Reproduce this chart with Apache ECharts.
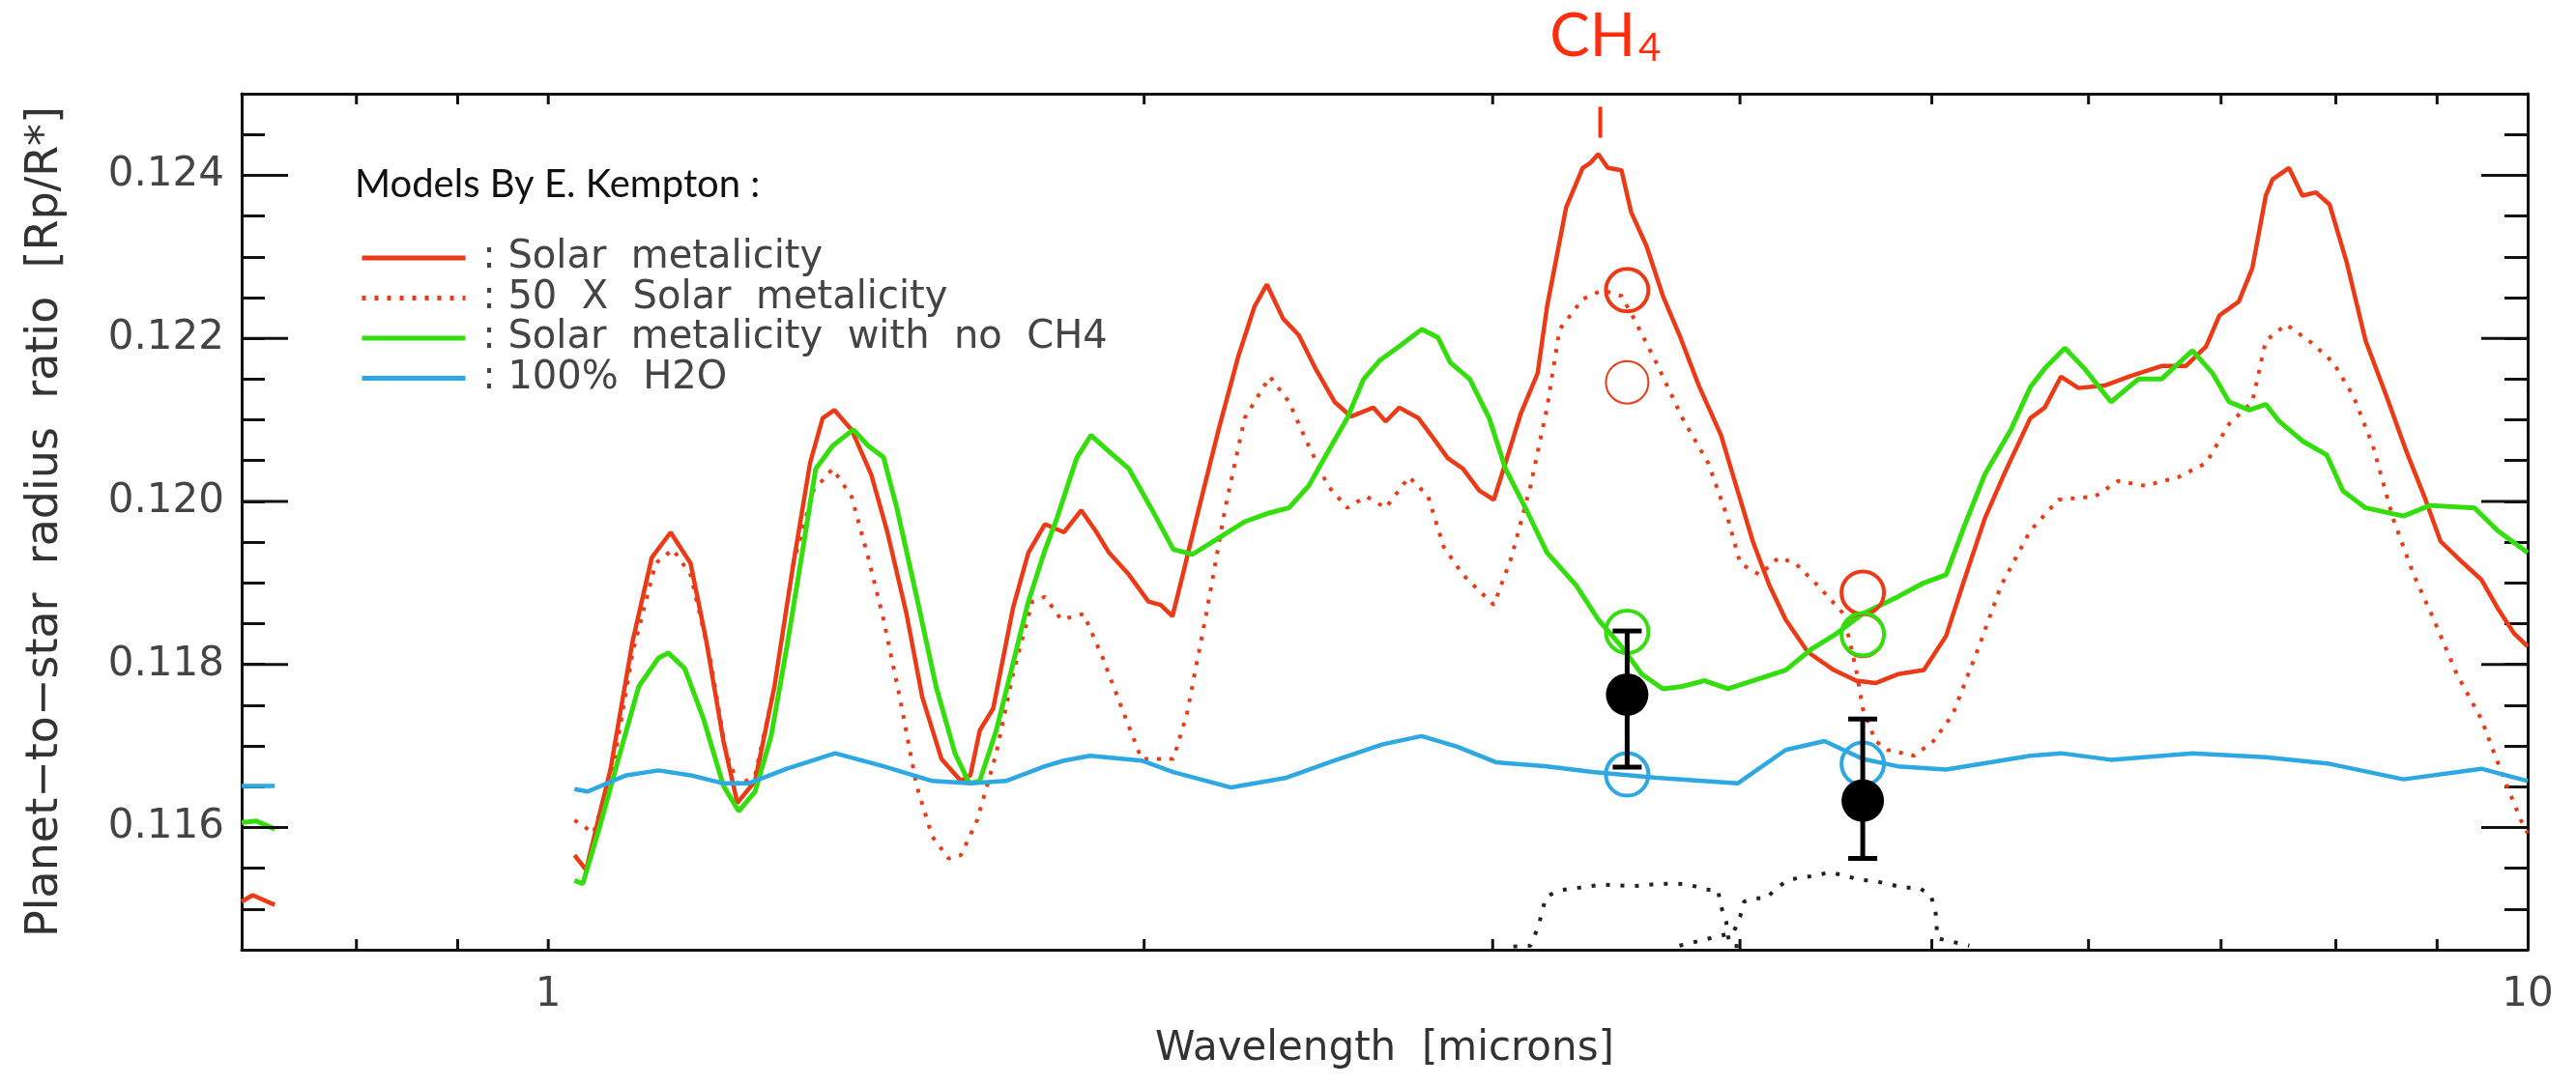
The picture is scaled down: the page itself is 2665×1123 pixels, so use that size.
<!DOCTYPE html>
<html>
<head>
<meta charset="utf-8">
<script src="https://cdn.jsdelivr.net/npm/echarts@6/dist/echarts.min.js"></script>
<style>
html,body{margin:0;padding:0;background:#fff;}
#chart{width:2665px;height:1123px;}
</style>
</head>
<body>
<div id="chart"></div>
<script>
// ---------------- DATA (wavelength in microns, Rp/R*) ----------------
const xAxisMin = 0.7, xAxisMax = 10;
const yAxisMin = 0.1145, yAxisMax = 0.125;

const xTickValues = [0.8, 0.9, 1, 2, 3, 4, 5, 6, 7, 8, 9];
const yMajorTicks = [0.116, 0.118, 0.120, 0.122, 0.124];

const seriesNames = ['Solar metalicity', '50 X Solar metalicity', 'Solar metalicity with no CH4', '100% H2O'];

// short visible pieces at the left edge of the frame
const solarStub = [[0.700,0.11509],[0.709,0.11517],[0.7275,0.11505]];
const noCH4Stub = [[0.700,0.11606],[0.712,0.11608],[0.7275,0.11598]];
const h2oStub   = [[0.700,0.11651],[0.7275,0.11651]];

const solarModel = [[1.031,0.11566],[1.045,0.11548],[1.075,0.11671],[1.103,0.11828],[1.128,0.11931],[1.153,0.11962],[1.180,0.11924],[1.202,0.11828],[1.226,0.11706],[1.246,0.11630],[1.272,0.11657],[1.301,0.11773],[1.330,0.11924],[1.356,0.12047],[1.376,0.12102],[1.395,0.12112],[1.423,0.12088],[1.456,0.12033],[1.483,0.11964],[1.517,0.11862],[1.545,0.11760],[1.580,0.11684],[1.616,0.11657],[1.634,0.11664],[1.652,0.11719],[1.678,0.11746],[1.717,0.11869],[1.748,0.11937],[1.782,0.11972],[1.822,0.11962],[1.859,0.11989],[1.890,0.11964],[1.920,0.11937],[1.965,0.11910],[2.010,0.11877],[2.039,0.11873],[2.067,0.11859],[2.092,0.11910],[2.132,0.11992],[2.181,0.12088],[2.231,0.12177],[2.274,0.12239],[2.307,0.12266],[2.351,0.12224],[2.394,0.12204],[2.441,0.12163],[2.496,0.12122],[2.544,0.12104],[2.611,0.12115],[2.649,0.12098],[2.691,0.12115],[2.752,0.12102],[2.793,0.12081],[2.847,0.12053],[2.898,0.12040],[2.954,0.12013],[3.004,0.12002],[3.045,0.12047],[3.100,0.12108],[3.161,0.12157],[3.196,0.12239],[3.268,0.12361],[3.331,0.12409],[3.361,0.12415],[3.392,0.12426],[3.430,0.12409],[3.485,0.12406],[3.524,0.12355],[3.588,0.12313],[3.657,0.12252],[3.728,0.12204],[3.813,0.12142],[3.913,0.12081],[3.989,0.12013],[4.060,0.11951],[4.139,0.11897],[4.218,0.11855],[4.329,0.11815],[4.462,0.11793],[4.579,0.11780],[4.683,0.11777],[4.806,0.11788],[4.954,0.11793],[5.084,0.11835],[5.182,0.11897],[5.318,0.11979],[5.438,0.12033],[5.607,0.12102],[5.702,0.12115],[5.811,0.12153],[5.930,0.12139],[6.113,0.12142],[6.287,0.12153],[6.531,0.12166],[6.719,0.12166],[6.879,0.12190],[6.986,0.12228],[7.146,0.12245],[7.259,0.12286],[7.374,0.12375],[7.433,0.12395],[7.575,0.12409],[7.695,0.12375],[7.817,0.12379],[7.942,0.12364],[8.102,0.12293],[8.282,0.12197],[8.485,0.12129],[8.685,0.12061],[8.867,0.12006],[9.036,0.11951],[9.280,0.11924],[9.475,0.11904],[9.657,0.11869],[9.843,0.11838],[10.0,0.11822]];

const metal50Model = [[1.031,0.11609],[1.054,0.11593],[1.078,0.11671],[1.103,0.11814],[1.133,0.11924],[1.156,0.11941],[1.180,0.11910],[1.207,0.11808],[1.230,0.11691],[1.248,0.11651],[1.272,0.11664],[1.301,0.11773],[1.330,0.11924],[1.361,0.12013],[1.392,0.12040],[1.423,0.12006],[1.451,0.11931],[1.477,0.11855],[1.505,0.11760],[1.535,0.11651],[1.563,0.11589],[1.593,0.11562],[1.616,0.11566],[1.647,0.11609],[1.684,0.11691],[1.717,0.11788],[1.756,0.11877],[1.782,0.11883],[1.816,0.11855],[1.864,0.11862],[1.906,0.11808],[1.949,0.11746],[1.994,0.11684],[2.032,0.11684],[2.069,0.11684],[2.102,0.11739],[2.150,0.11862],[2.198,0.11992],[2.248,0.12102],[2.315,0.12153],[2.367,0.12122],[2.422,0.12068],[2.477,0.12019],[2.533,0.11992],[2.590,0.12006],[2.649,0.11992],[2.722,0.12030],[2.783,0.12006],[2.834,0.11944],[2.898,0.11910],[2.954,0.11890],[3.004,0.11873],[3.066,0.11931],[3.135,0.12019],[3.196,0.12115],[3.243,0.12211],[3.331,0.12248],[3.408,0.12259],[3.485,0.12252],[3.536,0.12224],[3.629,0.12170],[3.741,0.12102],[3.855,0.12047],[3.944,0.11979],[4.001,0.11924],[4.092,0.11910],[4.185,0.11931],[4.266,0.11924],[4.378,0.11897],[4.512,0.11862],[4.579,0.11793],[4.614,0.11746],[4.683,0.11706],[4.752,0.11695],[4.899,0.11688],[5.010,0.11706],[5.124,0.11739],[5.282,0.11822],[5.420,0.11897],[5.607,0.11964],[5.793,0.12002],[6.045,0.12006],[6.210,0.12025],[6.408,0.12019],[6.666,0.12030],[6.879,0.12047],[7.066,0.12095],[7.259,0.12122],[7.374,0.12197],[7.551,0.12217],[7.792,0.12193],[7.977,0.12170],[8.165,0.12129],[8.353,0.12068],[8.550,0.11979],[8.758,0.11910],[8.966,0.11855],[9.209,0.11788],[9.475,0.11733],[9.619,0.11691],[9.761,0.11651],[9.921,0.11609],[10.0,0.11593]];

const noCH4Model = [[1.031,0.11535],[1.041,0.11531],[1.062,0.11602],[1.087,0.11691],[1.111,0.11773],[1.137,0.11808],[1.150,0.11814],[1.172,0.11795],[1.198,0.11733],[1.226,0.11651],[1.248,0.11620],[1.272,0.11644],[1.296,0.11712],[1.320,0.11822],[1.341,0.11924],[1.365,0.12040],[1.392,0.12068],[1.426,0.12088],[1.451,0.12068],[1.477,0.12054],[1.500,0.11992],[1.535,0.11883],[1.570,0.11773],[1.605,0.11691],[1.632,0.11654],[1.652,0.11657],[1.684,0.11719],[1.717,0.11801],[1.748,0.11877],[1.782,0.11940],[1.807,0.11979],[1.849,0.12053],[1.880,0.12081],[1.920,0.12061],[1.965,0.12040],[2.016,0.11992],[2.069,0.11941],[2.116,0.11935],[2.181,0.11955],[2.248,0.11975],[2.315,0.11986],[2.367,0.11992],[2.422,0.12019],[2.477,0.12061],[2.533,0.12102],[2.582,0.12150],[2.631,0.12173],[2.691,0.12190],[2.762,0.12211],[2.815,0.12201],[2.856,0.12170],[2.921,0.12150],[2.988,0.12102],[3.045,0.12040],[3.125,0.11986],[3.196,0.11937],[3.306,0.11897],[3.392,0.11855],[3.485,0.11822],[3.568,0.11788],[3.657,0.11770],[3.741,0.11773],[3.839,0.11780],[3.944,0.11770],[4.060,0.11780],[4.218,0.11793],[4.343,0.11818],[4.477,0.11838],[4.614,0.11862],[4.806,0.11883],[4.954,0.11900],[5.084,0.11910],[5.182,0.11964],[5.318,0.12033],[5.482,0.12088],[5.607,0.12140],[5.702,0.12163],[5.837,0.12188],[5.971,0.12163],[6.159,0.12122],[6.358,0.12150],[6.531,0.12150],[6.771,0.12185],[6.932,0.12157],[7.066,0.12122],[7.234,0.12112],[7.374,0.12119],[7.491,0.12098],[7.695,0.12074],[7.915,0.12057],[8.066,0.12013],[8.282,0.11992],[8.655,0.11982],[8.926,0.11995],[9.401,0.11992],[9.657,0.11964],[10.0,0.11937]];

const h2oModel = [[1.031,0.11647],[1.047,0.11644],[1.095,0.11664],[1.137,0.11670],[1.180,0.11664],[1.226,0.11654],[1.262,0.11654],[1.320,0.11672],[1.396,0.11691],[1.477,0.11675],[1.563,0.11657],[1.634,0.11654],[1.703,0.11657],[1.782,0.11675],[1.822,0.11682],[1.878,0.11688],[1.994,0.11682],[2.069,0.11668],[2.213,0.11649],[2.360,0.11661],[2.496,0.11682],[2.640,0.11702],[2.762,0.11712],[2.879,0.11699],[3.011,0.11680],[3.196,0.11675],[3.369,0.11668],[3.629,0.11661],[3.989,0.11654],[4.218,0.11695],[4.413,0.11706],[4.614,0.11684],[4.806,0.11675],[5.084,0.11671],[5.607,0.11688],[5.811,0.11691],[6.159,0.11683],[6.771,0.11691],[7.374,0.11686],[7.942,0.11678],[8.655,0.11659],[9.475,0.11672],[10.0,0.11657]];

// instrument band profiles (black dotted)
const band36 = [[3.073,0.11454],[3.135,0.11455],[3.164,0.11479],[3.178,0.11497],[3.192,0.11515],[3.243,0.11523],[3.294,0.11525],[3.408,0.11530],[3.536,0.11528],[3.645,0.11531],[3.707,0.11531],[3.770,0.11530],[3.839,0.11524],[3.899,0.11523],[3.913,0.11503],[3.936,0.11485],[3.944,0.11467],[3.957,0.11455],[4.020,0.11454]];
const band45 = [[3.728,0.11455],[3.970,0.11471],[4.001,0.11491],[4.019,0.11509],[4.060,0.11513],[4.124,0.11513],[4.171,0.11525],[4.233,0.11536],[4.367,0.11541],[4.442,0.11545],[4.517,0.11541],[4.594,0.11536],[4.683,0.11534],[4.844,0.11526],[4.926,0.11526],[4.993,0.11517],[5.021,0.11499],[5.027,0.11481],[5.033,0.11464],[5.223,0.11455]];

// observations and band-averaged models
const obsX    = [3.508, 4.614];
const obsY    = [0.11763, 0.11633];
const obsLow  = [0.11674, 0.11562];
const obsHigh = [0.11841, 0.11733];
const bandSolar = [0.12259, 0.11888];
const band50    = [0.12146, 0.11835];
const bandNoCH4 = [0.11840, 0.11837];
const bandH2O   = [0.11665, 0.11678];

// CH4 feature marker
const ch4Marker = [[3.40, 0.12446, 0.12484]];

// ---------------- STYLE ----------------
const RED = '#ec3a17', GREEN = '#34dd0c', BLUE = '#2ea8e2', INK = '#111';
const TICKFONT = 'DejaVu Sans';

function withGap(stub, main) { return stub.concat([[0.85, '-']], main); }
function pts(values) { return obsX.map((x, i) => [x, values[i]]); }

const chart = echarts.init(document.getElementById('chart'), null, {renderer: 'canvas'});

const axisLineStyle = {color: INK, width: 3};
const ring = (color, w) => ({color: 'transparent', borderColor: color, borderWidth: w, opacity: 1});

const option = {
  animation: false,
  backgroundColor: '#fff',
  grid: {left: 250, right: 50, top: 97, bottom: 140, containLabel: false},
  xAxis: [
    {
      type: 'log', logBase: 10, min: xAxisMin, max: xAxisMax, position: 'bottom',
      axisLine: {show: true, onZero: false, lineStyle: axisLineStyle},
      axisTick: {show: false}, splitLine: {show: false}, minorTick: {show: false},
      axisLabel: {
        fontFamily: TICKFONT, fontSize: 42, color: '#444', margin: 26,
        formatter: v => { const r = Math.log10(v); return Math.abs(r - Math.round(r)) < 1e-6 ? String(Math.round(v)) : ''; }
      },
      name: 'Wavelength  [microns]', nameLocation: 'middle', nameGap: 82,
      nameTextStyle: {fontFamily: TICKFONT, fontSize: 42, color: '#333'}
    },
    {
      type: 'log', logBase: 10, min: xAxisMin, max: xAxisMax, position: 'top',
      axisLine: {show: true, onZero: false, lineStyle: axisLineStyle},
      axisTick: {show: false}, splitLine: {show: false}, axisLabel: {show: false}
    }
  ],
  yAxis: [
    {
      type: 'value', min: yAxisMin, max: yAxisMax, interval: 0.0005, position: 'left',
      axisLine: {show: true, onZero: false, lineStyle: axisLineStyle},
      axisTick: {show: true, inside: true, length: 24, lineStyle: {color: INK, width: 3}},
      splitLine: {show: false},
      axisLabel: {
        fontFamily: TICKFONT, fontSize: 42, color: '#444', margin: 18,
        formatter: v => { const k = Math.round(v * 10000); return k % 20 === 0 ? (k / 10000).toFixed(3) : ''; }
      },
      name: 'Planet\u2212to\u2212star  radius  ratio  [Rp/R*]', nameLocation: 'middle', nameGap: 180, nameRotate: 90,
      nameTextStyle: {fontFamily: TICKFONT, fontSize: 46, color: '#333'}
    },
    {
      type: 'value', min: yAxisMin, max: yAxisMax, interval: 0.0005, position: 'right',
      axisLine: {show: true, onZero: false, lineStyle: axisLineStyle},
      axisTick: {show: true, inside: true, length: 24, lineStyle: {color: INK, width: 3}},
      splitLine: {show: false}, axisLabel: {show: false}
    }
  ],
  legend: {
    data: seriesNames, orient: 'vertical', left: 367, top: 242,
    itemWidth: 107, itemHeight: 20, itemGap: 1.5, selectedMode: false,
    formatter: n => ' : ' + n.replace(/ /g, '  '),
    textStyle: {fontFamily: TICKFONT, fontSize: 40, color: '#444', lineHeight: 40},
    itemStyle: {opacity: 0},
    lineStyle: {width: 5}
  },
  graphic: [
    {type: 'text', x: 367, y: 191, style: {text: 'Models By E. Kempton :', fontFamily: 'Lato', fontSize: 40, fill: INK, align: 'left', verticalAlign: 'middle'}},
    {type: 'text', x: 1692, y: 38, style: {text: 'CH', fontFamily: 'Lato', fontSize: 62, fill: '#ff2d0d', align: 'right', verticalAlign: 'middle'}},
    {type: 'text', x: 1695, y: 50, style: {text: '4', fontFamily: 'Lato', fontSize: 40, fill: '#ff2d0d', align: 'left', verticalAlign: 'middle'}}
  ],
  series: [
    {name: seriesNames[1], type: 'line', data: metal50Model, symbol: 'none', z: 2,
     lineStyle: {color: RED, width: 4, type: [4, 9]}, itemStyle: {color: RED}},
    {name: seriesNames[0], type: 'line', data: withGap(solarStub, solarModel), symbol: 'none', z: 3,
     lineStyle: {color: RED, width: 4.5}, itemStyle: {color: RED}},
    {name: seriesNames[2], type: 'line', data: withGap(noCH4Stub, noCH4Model), symbol: 'none', z: 3,
     lineStyle: {color: GREEN, width: 5}, itemStyle: {color: GREEN}},
    {name: seriesNames[3], type: 'line', data: withGap(h2oStub, h2oModel), symbol: 'none', z: 3,
     lineStyle: {color: BLUE, width: 4.5}, itemStyle: {color: BLUE}},
    {name: 'IRAC 3.6', type: 'line', data: band36, symbol: 'none', z: 2,
     lineStyle: {color: '#222', width: 4, type: [4, 11]}},
    {name: 'IRAC 4.5', type: 'line', data: band45, symbol: 'none', z: 2,
     lineStyle: {color: '#222', width: 4, type: [4, 11]}},
    {name: 'band solar', type: 'scatter', data: pts(bandSolar), symbol: 'circle', symbolSize: 44, z: 4,
     itemStyle: ring(RED, 4)},
    {name: 'band 50x', type: 'scatter', data: pts(band50), symbol: 'circle', symbolSize: 44, z: 4,
     itemStyle: ring(RED, 2)},
    {name: 'band noCH4', type: 'scatter', data: pts(bandNoCH4), symbol: 'circle', symbolSize: 44, z: 4,
     itemStyle: ring(GREEN, 4)},
    {name: 'band H2O', type: 'scatter', data: pts(bandH2O), symbol: 'circle', symbolSize: 44, z: 4,
     itemStyle: ring(BLUE, 4)},
    {name: 'error', type: 'custom', z: 5, silent: true,
     data: obsX.map((x, i) => [x, obsLow[i], obsHigh[i]]), encode: {x: 0, y: [1, 2]},
     renderItem: (params, api) => {
       const x = api.value(0);
       const lo = api.coord([x, api.value(1)]), hi = api.coord([x, api.value(2)]);
       const st = {stroke: '#000', lineWidth: 5};
       return {type: 'group', children: [
         {type: 'line', shape: {x1: lo[0], y1: lo[1], x2: hi[0], y2: hi[1]}, style: st},
         {type: 'line', shape: {x1: lo[0] - 15, y1: lo[1], x2: lo[0] + 15, y2: lo[1]}, style: st},
         {type: 'line', shape: {x1: hi[0] - 15, y1: hi[1], x2: hi[0] + 15, y2: hi[1]}, style: st}
       ]};
     }},
    {name: 'observed', type: 'scatter', data: pts(obsY), symbol: 'circle', symbolSize: 44, z: 6,
     itemStyle: {color: '#000', opacity: 1}},
    {name: 'xticks', type: 'custom', z: 10, silent: true,
     data: xTickValues.map(v => [v, yAxisMin]),
     renderItem: (params, api) => {
       const p = api.coord([api.value(0), api.value(1)]);
       const cs = params.coordSys;
       const st = {stroke: INK, lineWidth: 3};
       return {type: 'group', children: [
         {type: 'line', shape: {x1: p[0], y1: cs.y + cs.height, x2: p[0], y2: cs.y + cs.height - 11}, style: st},
         {type: 'line', shape: {x1: p[0], y1: cs.y, x2: p[0], y2: cs.y + 11}, style: st}
       ]};
     }},
    {name: 'yticks', type: 'custom', z: 10, silent: true,
     data: yMajorTicks.map(v => [xAxisMin, v]),
     renderItem: (params, api) => {
       const p = api.coord([api.value(0), api.value(1)]);
       const cs = params.coordSys;
       const st = {stroke: INK, lineWidth: 3};
       return {type: 'group', children: [
         {type: 'line', shape: {x1: cs.x, y1: p[1], x2: cs.x + 48, y2: p[1]}, style: st},
         {type: 'line', shape: {x1: cs.x + cs.width - 48, y1: p[1], x2: cs.x + cs.width, y2: p[1]}, style: st}
       ]};
     }},
    {name: 'ch4', type: 'custom', z: 10, silent: true,
     data: ch4Marker, encode: {x: 0, y: [1, 2]},
     renderItem: (params, api) => {
       const a = api.coord([api.value(0), api.value(1)]), b = api.coord([api.value(0), api.value(2)]);
       return {type: 'line', shape: {x1: a[0], y1: a[1], x2: b[0], y2: b[1]}, style: {stroke: '#ff2d0d', lineWidth: 4}};
     }}
  ]
};
chart.setOption(option);
</script>
</body>
</html>
